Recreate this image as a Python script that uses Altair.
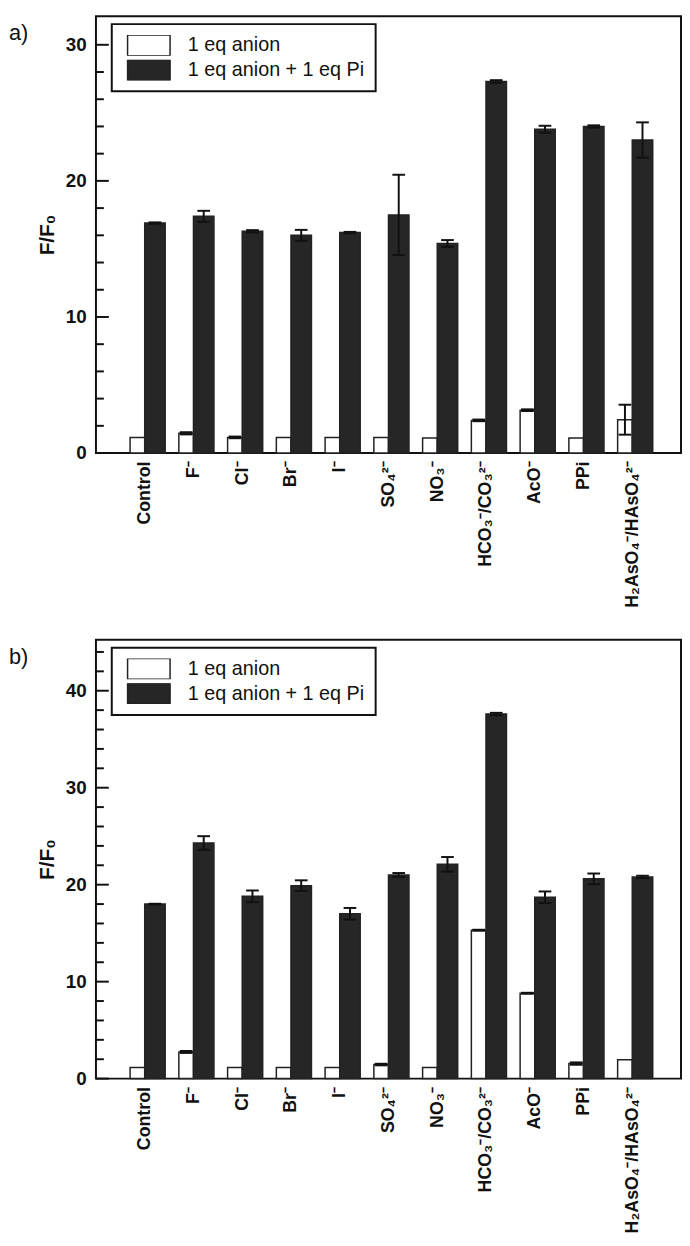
import json
import altair as alt
import pandas as pd

# ---------------- data ----------------
categories = ["Control", "F⁻", "Cl⁻", "Br⁻", "I⁻", "SO₄²⁻", "NO₃⁻",
              "HCO₃⁻/CO₃²⁻", "AcO⁻", "PPi", "H₂AsO₄⁻/HAsO₄²⁻"]
series_names = ["1 eq anion", "1 eq anion + 1 eq Pi"]

a_anion = [1.15, 1.45, 1.15, 1.15, 1.15, 1.15, 1.1, 2.4, 3.15, 1.1, 2.45]
a_anion_err = [0.0, 0.08, 0.06, 0.0, 0.0, 0.0, 0.0, 0.06, 0.06, 0.0, 1.1]
a_pi = [16.9, 17.4, 16.3, 16.0, 16.2, 17.5, 15.4, 27.3, 23.8, 24.0, 23.0]
a_pi_err = [0.05, 0.4, 0.08, 0.4, 0.05, 2.95, 0.25, 0.1, 0.25, 0.08, 1.3]

b_anion = [1.15, 2.75, 1.15, 1.15, 1.15, 1.45, 1.15, 15.3, 8.8, 1.55, 1.95]
b_anion_err = [0.0, 0.1, 0.0, 0.0, 0.0, 0.08, 0.0, 0.05, 0.05, 0.12, 0.0]
b_pi = [18.0, 24.3, 18.8, 19.9, 17.0, 21.0, 22.1, 37.6, 18.7, 20.6, 20.8]
b_pi_err = [0.03, 0.7, 0.6, 0.55, 0.6, 0.2, 0.75, 0.12, 0.6, 0.55, 0.12]

a_major = [0, 10, 20, 30]
a_minor = [2, 4, 6, 8, 12, 14, 16, 18, 22, 24, 26, 28]
b_major = [0, 10, 20, 30, 40]
b_minor = [2, 4, 6, 8, 12, 14, 16, 18, 22, 24, 26, 28, 32, 34, 36, 38, 42, 44]

FONT = "Liberation Sans, Arial, Helvetica, sans-serif"
DARK = "#262626"


def panel(tag, anion, anion_err, pi, pi_err, ymax, major, minor, height):
    rows = []
    for i in range(len(categories)):
        rows.append(dict(idx=i + 1, series=series_names[0], value=anion[i], err=anion_err[i]))
        rows.append(dict(idx=i + 1, series=series_names[1], value=pi[i], err=pi_err[i]))
    df = pd.DataFrame(rows)

    s0 = series_names[0]
    base = alt.Chart(df).transform_calculate(
        x0=f"datum.idx + (datum.series == '{s0}' ? -0.3 : 0)",
        x1=f"datum.idx + (datum.series == '{s0}' ? 0 : 0.42)",
        zero="0",
    ).transform_calculate(
        xc="(datum.x0 + datum.x1) / 2",
        lo="datum.value - datum.err",
        hi="datum.value + datum.err",
    ).transform_calculate(
        c0="datum.xc - 0.13",
        c1="datum.xc + 0.13",
    )

    xscale = alt.Scale(domain=[0, 12], nice=False, zero=False)
    yscale = alt.Scale(domain=[0, ymax], nice=False, zero=False)
    label_expr = json.dumps([""] + categories, ensure_ascii=False) + "[datum.value]"
    xaxis = alt.Axis(values=list(range(1, 12)), labelExpr=label_expr, labelAngle=-90,
                     ticks=False, domain=False, grid=False, labelFontSize=18,
                     labelFontWeight="bold", labelPadding=8, labelOverlap=False,
                     labelFlush=False, labelColor="#111", title=None)
    yaxis = alt.Axis(values=major, ticks=False, domain=False, grid=False,
                     labelFontSize=19, labelFontWeight="bold", labelPadding=10,
                     labelColor="#111", title="F/F₀", titleFontSize=21,
                     titleFontWeight="bold", titlePadding=8, titleColor="#111")

    def X(f):
        return alt.X(f, type="quantitative", scale=xscale, axis=xaxis)

    def Y(f):
        return alt.Y(f, type="quantitative", scale=yscale, axis=yaxis)

    legend = alt.Legend(
        title=None, orient="none", legendX=16, legendY=8, direction="vertical",
        symbolType="M-1,-0.488H1V0.488H-1Z", symbolSize=1849, clipHeight=21,
        rowPadding=4, symbolStrokeColor="#222", symbolStrokeWidth=1.5,
        symbolOffset=4, labelLimit=400,
        labelFontSize=20, labelFont=FONT, labelColor="#111", labelOffset=17,
        padding=11, strokeColor="#111", fillColor="white",
    )

    bars = base.mark_rect(stroke="#222", strokeWidth=1.5).encode(
        x=X("x0"), x2="x1:Q", y=Y("value"), y2="zero:Q",
        fill=alt.Fill("series:N", scale=alt.Scale(domain=series_names, range=["white", DARK]),
                      legend=legend),
    )

    err = base.transform_filter("datum.err > 0")
    err_v = err.mark_rule(color="#111", strokeWidth=2).encode(
        x=X("xc"), y=Y("lo"), y2="hi:Q")
    err_hi = err.mark_rule(color="#111", strokeWidth=2).encode(
        x=X("c0"), x2="c1:Q", y=Y("hi"))
    err_lo = err.mark_rule(color="#111", strokeWidth=2).encode(
        x=X("c0"), x2="c1:Q", y=Y("lo"))

    major_ticks = alt.Chart(pd.DataFrame({"t": major})).mark_rule(
        color="#111", strokeWidth=2).encode(
        y=Y("t"), x=alt.value(0), x2=alt.value(13))
    minor_ticks = alt.Chart(pd.DataFrame({"t": minor})).mark_rule(
        color="#111", strokeWidth=2).encode(
        y=Y("t"), x=alt.value(0), x2=alt.value(8))

    tag_text = alt.Chart(pd.DataFrame({"tag": [tag]})).mark_text(
        align="left", baseline="alphabetic", fontSize=22, font=FONT, color="#111").encode(
        text="tag:N", x=alt.value(-88), y=alt.value(24))

    return alt.layer(bars, err_v, err_hi, err_lo, major_ticks, minor_ticks, tag_text).properties(
        width=592, height=height)


pa = panel("a)", a_anion, a_anion_err, a_pi, a_pi_err, 32.1, a_major, a_minor, 442)
pb = panel("b)", b_anion, b_anion_err, b_pi, b_pi_err, 45.25, b_major, b_minor, 444)

chart = alt.vconcat(pa, pb, spacing=30).resolve_scale(
    fill="independent", x="independent", y="independent"
).resolve_legend(fill="independent").properties(padding=0, background="white").configure_view(
    stroke="#111", strokeWidth=2
).configure_axis(labelFont=FONT, titleFont=FONT)

try:
    chart.configure_legend(strokeWidth=2).save(
        "out.html", embed_options={"renderer": "svg", "actions": False})
except Exception:
    chart.save("out.html", embed_options={"renderer": "svg", "actions": False})
